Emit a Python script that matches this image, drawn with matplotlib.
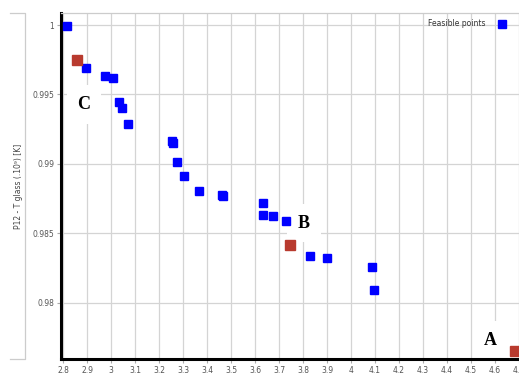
"""
Pareto front of feasible points: P12 against glass temperature.
"""

import matplotlib.pyplot as plt
from matplotlib.lines import Line2D
from matplotlib.ticker import FormatStrFormatter, MultipleLocator

# feasible points (x, P12 - T glass)
feasible_x = [2.818, 2.896, 2.975, 3.007, 3.033, 3.046, 3.072, 3.254, 3.257,
              3.275, 3.305, 3.365, 3.464, 3.466, 3.635, 3.635, 3.674, 3.729,
              3.830, 3.901, 4.086, 4.096]
feasible_y = [0.99993, 0.99688, 0.99633, 0.99618, 0.99444, 0.99403, 0.99288,
              0.99167, 0.99147, 0.99012, 0.98915, 0.98804, 0.98778, 0.98765,
              0.98715, 0.98628, 0.98623, 0.98589, 0.98338, 0.98319, 0.98254,
              0.98094]

# selected solutions
picked_names = ["C", "B", "A"]
picked_x = [2.860, 3.746, 4.683]
picked_y = [0.99746, 0.98418, 0.97652]
name_x = [2.888, 3.804, 4.579]
name_y = [0.99428, 0.98573, 0.97725]

W, H = 519, 375
fig = plt.figure(figsize=(W / 100, H / 100), dpi=100)
ax = fig.add_axes([61 / W, 16 / H, (W - 61) / W, (359 - 13) / H])

ax.set_xlim(2.8 - 2 / 240, 2.8 + (W - 63) / 240)
ax.set_ylim(0.97594, 1.00087)
ax.xaxis.set_major_locator(MultipleLocator(0.1))
ax.yaxis.set_major_locator(MultipleLocator(0.005))
ax.xaxis.set_major_formatter(FormatStrFormatter("%g"))
ax.yaxis.set_major_formatter(FormatStrFormatter("%g"))
ax.tick_params(labelsize=5.5, labelcolor="#555555", color="#aaaaaa",
               length=3, width=0.8, pad=2)

ax.grid(True, color="#d4d4d4", lw=0.9)
ax.set_axisbelow(True)
for side in ("left", "bottom"):
    ax.spines[side].set_color("black")
    ax.spines[side].set_linewidth(2.2)
ax.spines["top"].set_color("#cccccc")
ax.spines["top"].set_linewidth(0.9)
ax.spines["right"].set_visible(False)

ax.plot(feasible_x, feasible_y, ls="none", marker="s", ms=5.8,
        color="#0000ff", label="Feasible points", zorder=4)
ax.plot(picked_x, picked_y, ls="none", marker="s", ms=7.5,
        color="#b83a2e", zorder=4, clip_on=False)

# letter tags sit on white boxes above the grid but under the spines
for name, x, y in zip(picked_names, name_x, name_y):
    ax.text(x, y, name, fontsize=13, fontweight="bold",
            family="Liberation Serif", ha="center", va="center", zorder=1,
            bbox=dict(boxstyle="square,pad=0.6", fc="white", ec="none"))

ax.set_ylabel("P12 - T glass (.10⁹) [K]", fontsize=5.5, color="#444444")
ax.yaxis.set_label_coords(-0.082, 0.5)

ax.legend(loc="upper right", bbox_to_anchor=(0.99, 0.995), frameon=False,
          markerfirst=False, fontsize=5.5, labelcolor="#333333",
          handletextpad=1.2, borderaxespad=0.2)

# light frame around the axis title
fig.add_artist(Line2D([10 / W, 25 / W, 25 / W, 10 / W],
                      [1 - 13 / H, 1 - 13 / H, 1 - 359 / H, 1 - 359 / H],
                      color="#cccccc", lw=0.9, transform=fig.transFigure))

fig.savefig("out.png", dpi=100)
